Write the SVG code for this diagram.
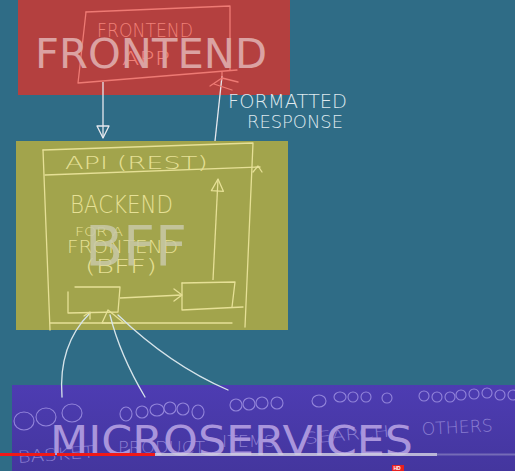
<svg xmlns="http://www.w3.org/2000/svg" width="515" height="471" viewBox="0 0 515 471">
<style>
.big{font-family:"DejaVu Sans",Verdana,sans-serif}
.hand{font-family:"DejaVu Sans",sans-serif;font-weight:200}
.pk{fill:none;stroke:#ee7a74;stroke-width:1.3;stroke-linecap:round;stroke-linejoin:round}
.yl{fill:none;stroke:#e6e096;stroke-width:1.3;stroke-linecap:round;stroke-linejoin:round}
.wl{fill:none;stroke:#d6e4ea;stroke-width:1.3;stroke-linecap:round;stroke-linejoin:round}
.cl{fill:none;stroke:#9284da;stroke-width:1.1}
.ptxt{fill:#8b7ed2}
</style>
<defs>
<marker id="tri" markerUnits="userSpaceOnUse" markerWidth="26" markerHeight="26" refX="13" refY="13" orient="auto" viewBox="0 0 26 26">
<path d="M13,13 L1,7 L1,19 Z" fill="none" stroke-width="1.3" stroke-linejoin="round" stroke="context-stroke"/>
</marker>
<linearGradient id="pg" x1="0" y1="0" x2="0" y2="1">
<stop offset="0" stop-color="#4d3cb2"/>
<stop offset="1" stop-color="#44369e"/>
</linearGradient>
</defs>
<rect width="515" height="471" fill="#2f6c86"/>

<g id="frontend">
<rect x="18" y="0" width="272" height="95" fill="#b4403f"/>
<polyline class="pk" points="86,12 230,6 230,70"/>
<polyline class="pk" points="86,12 78,83 237,70"/>
<text class="hand" x="97" y="37" font-size="19" textLength="96" lengthAdjust="spacingAndGlyphs" fill="#f08078">FRONTEND</text>
<text class="hand" x="122" y="65" font-size="19" textLength="48" lengthAdjust="spacingAndGlyphs" fill="#f08078">APP</text>
<text class="big" x="35" y="68" font-size="41" fill="#dba2a2" textLength="232" lengthAdjust="spacingAndGlyphs">FRONTEND</text>
</g>

<text class="hand" x="228" y="108" font-size="20" textLength="119" lengthAdjust="spacingAndGlyphs" fill="#dfe9ee">FORMATTED</text>
<text class="hand" x="247" y="128" font-size="17" textLength="96" lengthAdjust="spacingAndGlyphs" fill="#dfe9ee">RESPONSE</text>

<g id="bff">
<rect x="16" y="141" width="272" height="189" fill="#a2a44c"/>
<polyline class="yl" points="43,150 253,143 245,327"/>
<line class="yl" x1="43" y1="150" x2="50" y2="330"/>
<line class="yl" x1="45" y1="175" x2="260" y2="167"/>
<line class="yl" x1="50" y1="323" x2="232" y2="323"/>
<polyline class="yl" points="253,172 258,166 262,172"/>
<text class="hand" x="65" y="169" font-size="17" textLength="143" lengthAdjust="spacingAndGlyphs" fill="#e6e096">API (REST)</text>
<text class="hand" x="70" y="213" font-size="24" textLength="103" lengthAdjust="spacingAndGlyphs" fill="#e6e096">BACKEND</text>
<text class="hand" x="75" y="236" font-size="13" textLength="48" lengthAdjust="spacingAndGlyphs" fill="#e6e096">FOR A</text>
<text class="hand" x="67" y="253" font-size="18" textLength="111" lengthAdjust="spacingAndGlyphs" fill="#e6e096">FRONTEND</text>
<text class="hand" x="85" y="273" font-size="20" textLength="72" lengthAdjust="spacingAndGlyphs" fill="#e6e096">(BFF)</text>
<polyline class="yl" points="75,287 120,287 118,312 68,313 68,292"/>
<polyline class="yl" points="182,283 235,282 232,307"/>
<polyline class="yl" points="182,283 182,310 243,307"/>
<text class="big" x="85" y="265" font-size="56" fill="#c9c9a8" textLength="102" lengthAdjust="spacingAndGlyphs" opacity="0.85">BFF</text>
</g>

<g id="microservices">
<rect x="12" y="385" width="503" height="86" fill="url(#pg)"/>
<g class="cl">
<ellipse cx="24" cy="421" rx="10" ry="9"/>
<ellipse cx="46" cy="417" rx="10" ry="9"/>
<ellipse cx="72" cy="413" rx="10" ry="9"/>
<ellipse cx="126" cy="414" rx="6" ry="7"/>
<ellipse cx="142" cy="412" rx="6" ry="6"/>
<ellipse cx="157" cy="410" rx="7" ry="6"/>
<ellipse cx="170" cy="408" rx="6" ry="6"/>
<ellipse cx="183" cy="409" rx="6" ry="6"/>
<ellipse cx="198" cy="412" rx="6" ry="7"/>
<ellipse cx="236" cy="405" rx="6" ry="6"/>
<ellipse cx="249" cy="404" rx="6" ry="6"/>
<ellipse cx="262" cy="403" rx="6" ry="6"/>
<ellipse cx="277" cy="403" rx="6" ry="6"/>
<ellipse cx="319" cy="401" rx="7" ry="6"/>
<ellipse cx="340" cy="397" rx="6" ry="5"/>
<ellipse cx="353" cy="397" rx="5" ry="5"/>
<ellipse cx="366" cy="397" rx="5" ry="5"/>
<ellipse cx="387" cy="398" rx="5" ry="5"/>
<ellipse cx="424" cy="396" rx="5" ry="5"/>
<ellipse cx="437" cy="397" rx="5" ry="5"/>
<ellipse cx="450" cy="397" rx="5" ry="5"/>
<ellipse cx="461" cy="395" rx="5" ry="5"/>
<ellipse cx="474" cy="394" rx="5" ry="5"/>
<ellipse cx="487" cy="393" rx="5" ry="5"/>
<ellipse cx="500" cy="395" rx="5" ry="5"/>
<ellipse cx="513" cy="395" rx="5" ry="5"/>
</g>
<text class="hand ptxt" x="18" y="463" font-size="17" textLength="77" lengthAdjust="spacingAndGlyphs" transform="rotate(-4 18 463)">BASKET</text>
<text class="hand ptxt" x="118" y="453" font-size="16" textLength="87" lengthAdjust="spacingAndGlyphs">PRODUCT</text>
<text class="hand ptxt" x="222" y="447" font-size="15" textLength="53" lengthAdjust="spacingAndGlyphs">ITEMS</text>
<text class="hand ptxt" x="305" y="444" font-size="16" textLength="85" lengthAdjust="spacingAndGlyphs" transform="rotate(-5 305 444)">SEARCH</text>
<text class="hand ptxt" x="422" y="435" font-size="17" textLength="71" lengthAdjust="spacingAndGlyphs" transform="rotate(-3 422 435)">OTHERS</text>
<text class="big" x="50" y="455" font-size="40" fill="#a995dc" textLength="363" lengthAdjust="spacingAndGlyphs">MICROSERVICES</text>
</g>

<g id="connectors">
<line x1="103" y1="82" x2="103" y2="138" stroke="#e6e8ee" stroke-width="1.3" marker-end="url(#tri)"/>
<line x1="215" y1="141" x2="222" y2="76" stroke="#e6e8ee" stroke-width="1.3"/>
<path class="pk" d="M210,86 L222,78 L238,82 M214,84 L232,90 M222,72 L222,80"/>
<line x1="213" y1="280" x2="218" y2="179" stroke="#e6e096" stroke-width="1.3" marker-end="url(#tri)"/>
<line x1="120" y1="298" x2="182" y2="295" stroke="#e6e096" stroke-width="1.3"/>
<polyline class="yl" points="174,289 182,295 174,301"/>
<path d="M108,310 L102,323 L124,323 Z" class="yl"/>
<path class="wl" d="M62,397 Q58,345 90,313"/>
<polyline class="yl" points="84,316 90,312 90,319"/>
<path class="wl" d="M145,397 Q120,355 110,315"/>
<path class="wl" d="M228,390 Q170,365 118,315"/>
</g>

<rect x="0" y="453" width="55" height="3" fill="#f01818"/>
<rect x="57" y="453" width="98" height="3" fill="#f01818"/>
<rect x="155" y="453" width="282" height="3" fill="#cfcde0" opacity="0.85"/>
<rect x="437" y="453.5" width="78" height="2" fill="#cfcde0" opacity="0.35"/>
<rect x="392" y="465" width="12" height="6" fill="#e82020"/>
<text x="393.5" y="470" font-family="Liberation Sans, sans-serif" font-size="5" font-weight="bold" fill="#ffffff">HD</text>
</svg>
